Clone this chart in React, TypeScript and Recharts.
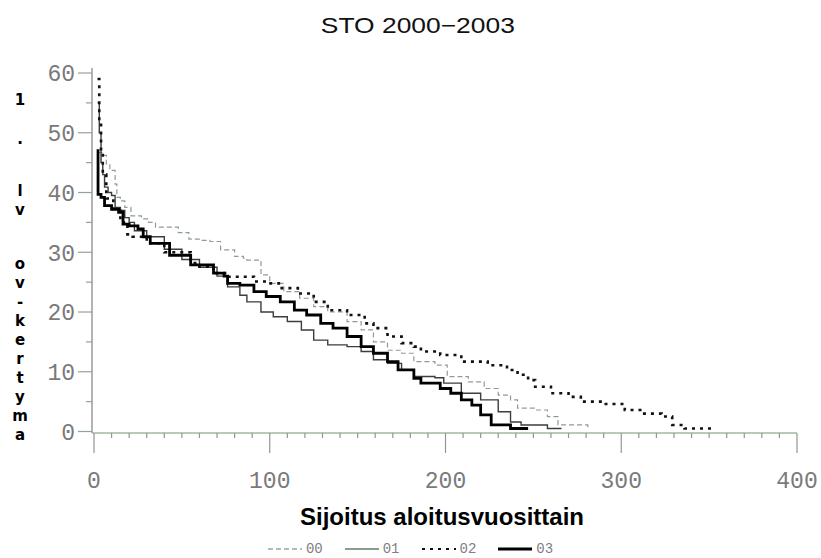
import React from 'react';
import { LineChart, Line, XAxis, YAxis, Legend } from 'recharts';

// Series values: [rank, cumulative credits]
const s00: [number, number][] = [
  [2, 46.7], [5, 46.2], [7, 44.8], [9, 43.7], [12, 41.4], [13, 39.2], [15, 38.6], [17.5, 37.5],
  [21, 36.1], [27, 35.6], [31, 35], [35, 34.2], [42, 34.2], [48, 33.3], [54, 32.2], [60, 32],
  [66, 31.8], [72, 30.4], [80, 29.3], [85, 29], [87, 28.7], [95, 26.2], [100, 24.8], [108, 23.4],
  [117, 22.3], [125, 20.9], [133, 20], [144, 18.4], [152, 17], [159, 15], [167, 13.6], [175, 13.1],
  [182, 11.7], [194, 11.1], [201, 9.2], [213, 8.3], [222, 7.2], [230, 6.1], [237, 5.3], [241, 3.9],
  [251, 3.6], [258, 2.5], [264, 1.1], [275, 1.1], [281, 0.4],
];
const s01: [number, number][] = [
  [2, 55], [3, 50], [4, 45], [5, 43], [6, 40.9], [8, 40], [10, 39.5], [12, 37.5], [15, 37],
  [17.5, 35.8], [20, 35], [23, 33.6], [30, 32.6], [40, 30.5], [50, 28.8], [60, 27.5], [70, 26],
  [76, 24.2], [83, 22.8], [87, 21.7], [95, 20], [102, 19.2], [110, 18.4], [118, 17], [125, 15.3],
  [133, 14.5], [144, 14.2], [152, 13.4], [159, 12], [167, 11.4], [175, 10.3], [182, 9.2], [194, 9],
  [199, 8.1], [209, 6.4], [220, 5.3], [230, 3.3], [237, 1.6], [243, 1.1], [256, 1.1], [258, 0.5],
  [266, 0.5],
];
const s02: [number, number][] = [
  [2, 59], [3, 52], [4, 47], [5, 43], [7, 39], [11, 37], [15, 35], [19, 33], [22, 32.6], [30, 31.5],
  [40, 30], [55, 28.2], [60, 27.6], [68, 26.5], [76, 25.9], [91, 25.1], [98, 24.8], [106, 24],
  [116, 23.1], [125, 21.7], [133, 20.3], [144, 19.5], [154, 18.1], [159, 17.3], [167, 15.9],
  [175, 14.8], [182, 14.2], [186, 13.4], [197, 12.8], [209, 11.7], [224, 11.1], [235, 10.3],
  [241, 9.5], [247, 8.6], [251, 7.5], [260, 6.4], [270, 5.8], [277, 5], [289, 4.6], [298, 4.6],
  [302, 3.6], [312, 3], [323, 2.5], [329, 1.1], [336, 0.5], [353, 0.4],
];
const s03: [number, number][] = [
  [1.5, 47], [2.3, 39.7], [4, 39.2], [6, 37.8], [10, 37.2], [14, 36.7], [16.5, 34.7], [20, 34.4],
  [25, 33.9], [28, 32.6], [32, 31.5], [43, 29.5], [55, 27.9], [68, 26.5], [74, 26], [76, 24.8],
  [83, 24.5], [91, 23.4], [98, 22.6], [106, 21.7], [114, 20.3], [121, 19.5], [129, 18.1],
  [136, 17.3], [144, 15.9], [152, 14.2], [159, 13.1], [167, 11.7], [173, 10.3], [182, 8.9],
  [186, 8.1], [197, 7.2], [203, 6.4], [209, 5.3], [215, 4.4], [220, 2.8], [226, 1.1], [237, 0.5],
  [247, 0.5],
];

const seriesNames = ['00', '01', '02', '03'];
const xTicks = [0, 10, 20, 30, 40, 50, 60, 70, 80, 90, 100, 110, 120, 130, 140, 150, 160, 170, 180, 190,
  200, 210, 220, 230, 240, 250, 260, 270, 280, 290, 300, 310, 320, 330, 340, 350, 360, 370, 380, 390, 400];
const xLabelTicks = [0, 100, 200, 300, 400];
const yTicks = [0, 5, 10, 15, 20, 25, 30, 35, 40, 45, 50, 55, 60];
const yLabelTicks = [0, 10, 20, 30, 40, 50, 60];
const yLabelChars = ['1', '.', 'l', 'v', 'o', 'v', '-', 'k', 'e', 'r', 't', 'y', 'm', 'a'];
const yLabelRows = [100, 139, 191, 210, 264, 283, 302, 321, 340, 359, 378, 397, 416, 435];

const toPts = (arr: [number, number][]) => arr.map(([x, y]) => ({ x, y }));

const styles: Record<string, { stroke: string; width: number; dash?: string }> = {
  '00': { stroke: '#8e9e8e', width: 1.2, dash: '5 3' },
  '01': { stroke: '#3a3f3a', width: 1.4 },
  '02': { stroke: '#111', width: 2.6, dash: '3 5' },
  '03': { stroke: '#000', width: 2.8 },
};

const tickFont = { fontFamily: '"Liberation Mono", monospace', fontSize: 23, fill: '#7a7a7a' };

const YTick = (props: any) => {
  const { x, y, payload } = props;
  const major = yLabelTicks.includes(payload.value);
  return (
    <g>
      <line x1={x - (major ? 14 : 6)} x2={x} y1={y} y2={y} stroke="#8fa58f" strokeWidth={1.2} />
      {major && (
        <text x={x - 17} y={y} dy="0.36em" textAnchor="end" {...tickFont}>{payload.value}</text>
      )}
    </g>
  );
};

const XTick = (props: any) => {
  const { x, y, payload } = props;
  const major = xLabelTicks.includes(payload.value);
  return (
    <g>
      <line x1={x} x2={x} y1={y} y2={y + (major ? 20 : 5)} stroke="#909890" strokeWidth={1.2} />
      {major && (
        <text x={x} y={y + 47} dy="0.36em" textAnchor="middle" {...tickFont}>{payload.value}</text>
      )}
    </g>
  );
};

const LegendContent = () => (
  <div style={{ display: 'flex', justifyContent: 'center', gap: 22, fontFamily: '"Liberation Mono", monospace', fontSize: 14, color: '#808080' }}>
    {seriesNames.map((n) => {
      const s = styles[n];
      return (
        <div key={n} style={{ display: 'flex', alignItems: 'center', gap: 4 }}>
          <svg width={34} height={10}>
            <line x1={0} x2={34} y1={5} y2={5} stroke={n === '00' ? '#9aa59a' : n === '01' ? '#6a7a6a' : s.stroke}
              strokeWidth={n === '03' ? 3 : n === '02' ? 2 : 1.4} strokeDasharray={s.dash} />
          </svg>
          <span>{n}</span>
        </div>
      );
    })}
  </div>
);

export default function App() {
  const data = { '00': toPts(s00), '01': toPts(s01), '02': toPts(s02), '03': toPts(s03) } as Record<string, { x: number; y: number }[]>;
  return (
    <div style={{ position: 'absolute', left: 0, top: 0, width: 821, height: 558, background: '#fff' }}>
      <div style={{ position: 'absolute', left: 0, top: 13, width: 836, textAlign: 'center' }}>
        <span style={{ display: 'inline-block', fontFamily: '"Liberation Sans", Arial, sans-serif', fontSize: 22, color: '#111', transform: 'scaleX(1.2)' }}>
          STO 2000−2003
        </span>
      </div>
      {yLabelChars.map((c, i) => (
        <div key={i} style={{ position: 'absolute', left: 8, width: 24, top: yLabelRows[i] - 8, height: 16, lineHeight: '16px', textAlign: 'center', fontFamily: '"DejaVu Sans", sans-serif', fontWeight: 700, fontSize: 15, color: '#000' }}>
          {c}
        </div>
      ))}
      <div style={{ position: 'absolute', left: 0, top: 502, width: 884, textAlign: 'center', fontFamily: '"Liberation Sans", Arial, sans-serif', fontWeight: 700, fontSize: 24, color: '#000', lineHeight: '30px' }}>
        Sijoitus aloitusvuosittain
      </div>
      <LineChart width={821} height={558} margin={{ top: 68, right: 24, bottom: 0, left: 0 }}>
        <XAxis dataKey="x" type="number" domain={[-1.14, 400]} allowDataOverflow ticks={xTicks} interval={0}
          tick={<XTick />} tickLine={false} tickSize={0} tickMargin={0} height={125}
          axisLine={{ stroke: '#a3b9a3', strokeWidth: 1.5 }} />
        <XAxis xAxisId="top" orientation="top" type="number" domain={[-1.14, 400]} tick={false} tickLine={false} height={0}
          axisLine={{ stroke: '#a3b9a3', strokeWidth: 1.5 }} />
        <YAxis type="number" domain={[-0.25, 60.84]} allowDataOverflow ticks={yTicks} interval={0}
          tick={<YTick />} tickLine={false} tickSize={0} tickMargin={0} width={92}
          axisLine={{ stroke: '#9a9a9a', strokeWidth: 1.5 }} />
        <YAxis yAxisId="right" orientation="right" type="number" domain={[-0.25, 60.84]} tick={false} tickLine={false} width={0}
          axisLine={{ stroke: '#a8a8a8', strokeWidth: 1.5 }} />
        {seriesNames.map((n) => (
          <Line key={n} data={data[n]} dataKey="y" name={n} type="stepAfter" stroke={styles[n].stroke}
            strokeWidth={styles[n].width} strokeDasharray={styles[n].dash} dot={false} activeDot={false}
            isAnimationActive={false} />
        ))}
        <Legend verticalAlign="middle" content={<LegendContent />} wrapperStyle={{ top: 541, left: 0, width: 821 }} />
      </LineChart>
    </div>
  );
}
